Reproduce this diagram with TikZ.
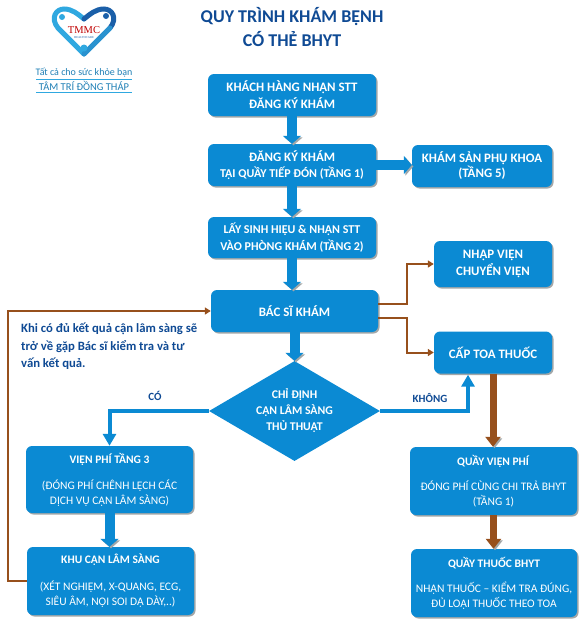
\documentclass[tikz,border=0pt]{standalone}
\usepackage{fontspec}
\usepackage{xcolor}
\setmainfont{Carlito}
\newfontfamily\logofont{Liberation Serif}
\usetikzlibrary{arrows.meta, positioning, shapes.geometric, shadows, calc}
\definecolor{boxblue}{HTML}{0B8AD3}
\definecolor{inkblue}{HTML}{0F4A94}
\definecolor{linkbrown}{HTML}{97501C}
\definecolor{shadowgray}{HTML}{A3A7A8}
\definecolor{logolight}{HTML}{2FA8E0}
\definecolor{logodark}{HTML}{1B5FA8}
\definecolor{tagblue}{HTML}{1F7FB5}

\begin{document}
\begin{tikzpicture}[
  x=1pt, y=-1pt,
  boxstage/.style={fill=boxblue, rounded corners=6pt, inner sep=0pt, align=center, text=white,
    font=\fontsize{12.9}{17}\selectfont\bfseries,
    drop shadow={shadow xshift=1.5pt, shadow yshift=-1.5pt, fill=shadowgray, opacity=1}},
  boxsmall/.style={boxstage, font=\fontsize{12}{16.5}\selectfont\bfseries},
  boxdetail/.style={boxstage, font=\fontsize{11.5}{15}\selectfont},
  choice/.style={diamond, fill=boxblue, inner sep=0pt, aspect=1.71, minimum width=171pt, minimum height=100pt,
    align=center, text=white, font=\fontsize{11.8}{16}\selectfont\bfseries},
  note/.style={text=inkblue, font=\fontsize{12.7}{17.5}\selectfont\bfseries, align=left, anchor=north west, inner sep=0pt},
  blockarr/.style={draw=boxblue, line width=10pt, -{Triangle[width=18pt, length=8pt]},
    preaction={draw=shadowgray, transform canvas={xshift=1.5pt, yshift=-1.5pt}}},
  thickarr/.style={draw=linkbrown, line width=7pt, -{Triangle[width=15pt, length=10pt]},
    preaction={draw=shadowgray, transform canvas={xshift=1.5pt, yshift=-1.5pt}}},
  thinarr/.style={draw=linkbrown, line width=2pt, -{Triangle[width=7pt, length=6pt]}},
  flowarr/.style={draw=boxblue, line width=4pt, -{Triangle[width=13pt, length=12pt]}}
]
\useasboundingbox (0,0) rectangle (583,629);

% logo
\draw[logolight, line width=5pt, line cap=round] (84,54) -- (58,28) .. controls (50,18) and (56,9) .. (64,9) .. controls (72,9) and (78,14) .. (84,19);
\draw[logodark, line width=5pt, line cap=round] (84,19) .. controls (90,14) and (96,9) .. (104,9) .. controls (112,9) and (118,18) .. (110,28);
\draw[logolight!70!logodark, line width=5pt, line cap=round] (110,28) -- (84,54);
\fill[logolight] (62,17) circle (3pt) (84,48) circle (3.5pt);
\fill[logodark] (106,16) circle (3pt);
\node[text=red!75!black, inner sep=0pt, font=\logofont\fontsize{10.5}{11}\selectfont] (tmmc) at (84,30) {TMMC};
\node[text=logodark, inner sep=0pt, font=\logofont\fontsize{3}{3}\selectfont] (care) at (84,38) {HEALTHCARE};
\node[text=tagblue, inner sep=0pt, font=\fontsize{10}{11}\selectfont] (slogan) at (84,73) {Tất cả cho sức khỏe bạn};
\node[text=tagblue, inner sep=0pt, font=\fontsize{10.5}{11}\selectfont] (place) at (84,86) {TÂM TRÍ ĐỒNG THÁP};
\draw[logolight, line width=0.6pt] (36,79.5) -- (132,79.5);
\draw[logolight, line width=0.6pt] (36,92) -- (132,92);

% title
\node[text=inkblue, align=center, inner sep=0pt, font=\fontsize{18}{24}\selectfont\bfseries] (title) at (292,27) {QUY TRÌNH KHÁM BỆNH\\CÓ THẺ BHYT};

% center column
\node[boxstage, minimum width=168pt, minimum height=42pt] (nhanstt) at (292,95) {KHÁCH HÀNG NHẬN STT\\ĐĂNG KÝ KHÁM};
\node[boxstage, minimum width=168pt, minimum height=42pt] (dangky) at (292,165) {ĐĂNG KÝ KHÁM\\[-1.5pt]{\fontsize{12}{15}\selectfont TẠI QUẦY TIẾP ĐÓN (TẦNG 1)}};
\node[boxsmall, minimum width=168pt, minimum height=41pt] (sinhhieu) at (292,237.5) {LẤY SINH HIỆU \& NHẬN STT\\VÀO PHÒNG KHÁM (TẦNG 2)};
\node[boxstage, minimum width=167pt, minimum height=42pt] (bacsi) at (294.5,311) {BÁC SĨ KHÁM};
\node[choice] (chidinh) at (294.5,411) {CHỈ ĐỊNH\\CẬN LÂM SÀNG\\THỦ THUẬT};

% right column
\node[boxstage, minimum width=140pt, minimum height=42pt] (sankhoa) at (482,166) {KHÁM SẢN PHỤ KHOA\\[-2pt](TẦNG 5)};
\node[boxstage, minimum width=118pt, minimum height=46pt] (nhapvien) at (493,264) {NHẬP VIỆN\\CHUYỂN VIỆN};
\node[boxstage, minimum width=118pt, minimum height=42pt] (captoa) at (493,352.5) {CẤP TOA THUỐC};
\node[boxdetail, minimum width=167pt, minimum height=68pt] (quayvp) at (493.5,481) {\textbf{QUẦY VIỆN PHÍ}\\[10pt]ĐÓNG PHÍ CÙNG CHI TRẢ BHYT\\(TẦNG 1)};
\node[boxdetail, minimum width=166pt, minimum height=68pt] (quaythuoc) at (494,583) {\textbf{QUẦY THUỐC BHYT}\\[10pt]NHẬN THUỐC -- KIỂM TRA ĐÚNG,\\ĐỦ LOẠI THUỐC THEO TOA};

% left column
\node[boxdetail, minimum width=167pt, minimum height=67pt] (vienphi) at (109.5,479.5) {\textbf{VIỆN PHÍ TẦNG 3}\\[11pt](ĐÓNG PHÍ CHÊNH LỆCH CÁC\\DỊCH VỤ CẬN LÂM SÀNG)};
\node[boxdetail, minimum width=167pt, minimum height=68pt] (khucls) at (110.5,581) {\textbf{KHU CẬN LÂM SÀNG}\\[12pt](XÉT NGHIỆM, X-QUANG, ECG,\\SIÊU ÂM, NỘI SOI DẠ DÀY,..)};

\node[note] (ghichu) at (21,323) {Khi có đủ kết quả cận lâm sàng sẽ\\trở về gặp Bác sĩ kiểm tra và tư\\vấn kết quả.};
\node[text=inkblue, inner sep=0pt, font=\fontsize{11}{12}\selectfont\bfseries] (labco) at (155,396) {CÓ};
\node[text=inkblue, inner sep=0pt, font=\fontsize{11}{12}\selectfont\bfseries] (labkhong) at (430,398) {KHÔNG};

% connectors
\draw[blockarr] (nhanstt.south) -- (dangky.north);
\draw[blockarr] (dangky.south) -- (sinhhieu.north);
\draw[blockarr] (sinhhieu.south) -- (sinhhieu.south |- bacsi.north);
\draw[blockarr] (bacsi.south) -- (chidinh.north);
\draw[blockarr] (dangky.east) -- (sankhoa.west |- dangky.east);
\draw[blockarr] (vienphi.south) -- (vienphi.south |- khucls.north);
\draw[thickarr] (captoa.south) -- (captoa.south |- quayvp.north);
\draw[thickarr] (quayvp.south) -- (quayvp.south |- quaythuoc.north);
\draw[thinarr] ([yshift=7pt]bacsi.east) -- ++(29,0) |- (nhapvien.west);
\draw[thinarr] ([yshift=-7pt]bacsi.east) -- ++(29,0) |- (captoa.west);
\draw[thinarr] (khucls.west) -- ++(-19,0) |- (bacsi.west);
\draw[flowarr] (chidinh.west) -| (vienphi.north);
\draw[flowarr] (chidinh.east) -| ([xshift=-25pt,yshift=-1pt]captoa.south);
\end{tikzpicture}
\end{document}
